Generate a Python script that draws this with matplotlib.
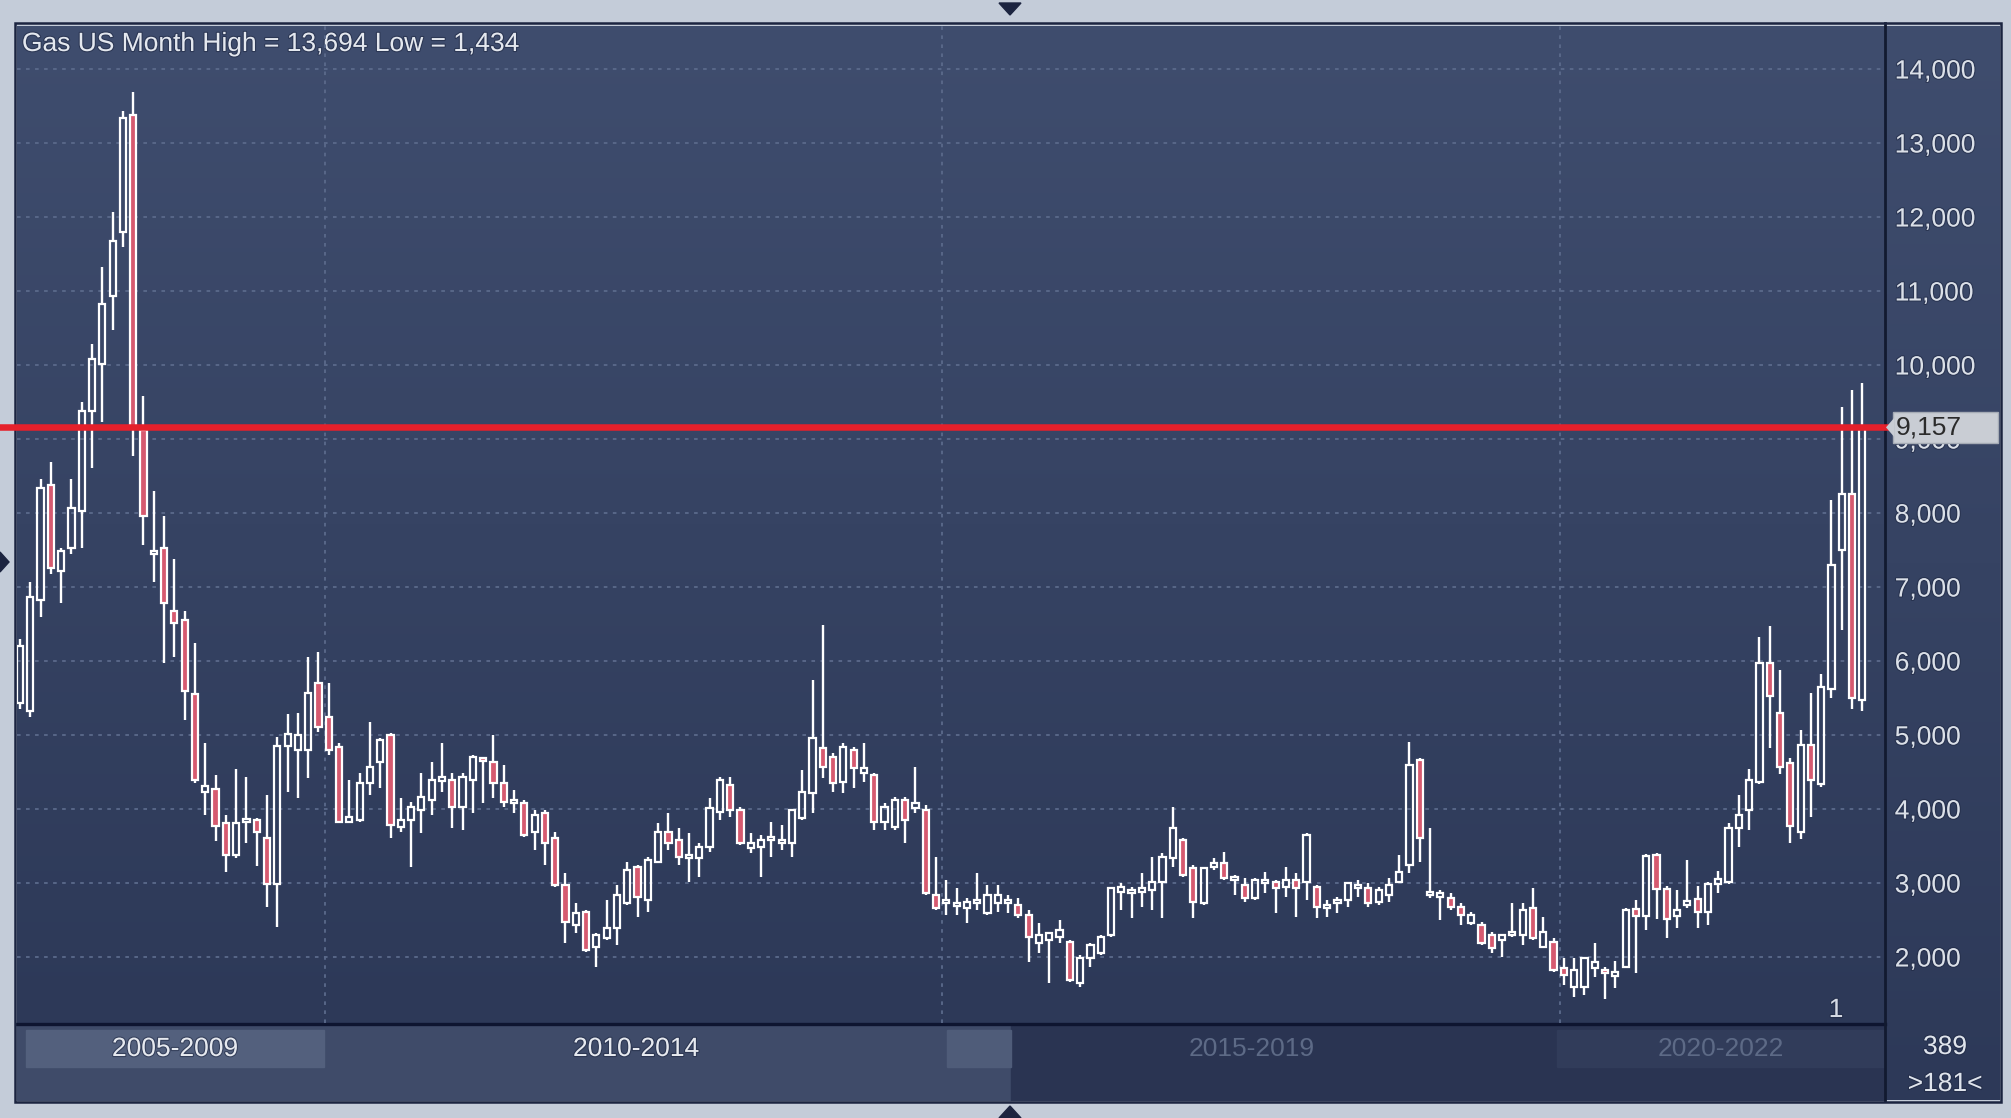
import matplotlib
matplotlib.use('Agg')
import matplotlib.pyplot as plt
import numpy as np
from matplotlib.patches import Rectangle, Polygon
from matplotlib.colors import LinearSegmentedColormap
from matplotlib.ticker import FuncFormatter
import matplotlib.transforms as mtransforms
import matplotlib.patheffects as pe

plt.rcParams['font.family'] = ['Liberation Sans', 'DejaVu Sans']

# ---------------- data (monthly candles, Aug 2007 .. Jul 2022) ----------------
opens = [5434, 5318, 6829, 8380, 7217, 7527, 8031, 9372, 10008, 10938,
         11791, 13380, 9116, 7450, 7527, 6674, 6558, 5550, 4233, 4271,
         3806, 3380, 3820, 3845, 3612, 2992, 4853, 4800, 4797, 5698,
         5248, 4842, 3828, 3851, 4347, 4640, 5000, 3761, 3851, 3986,
         4121, 4392, 4392, 4031, 4392, 4685, 4640, 4347, 4076, 4076,
         3693, 3941, 3603, 2972, 2432, 2612, 2139, 2252, 2387, 2725,
         3220, 2770, 3288, 3693, 3581, 3340, 3333, 3491, 3964, 4324,
         3986, 3468, 3491, 3581, 3536, 3536, 3873, 4212, 4820, 4707,
         4369, 4797, 4482, 4459, 3829, 3761, 4122, 4009, 3986, 2838,
         2725, 2700, 2657, 2725, 2590, 2725, 2740, 2703, 2567, 2184,
         2229, 2274, 2207, 1644, 1982, 2049, 2297, 2883, 2870, 2895,
         2905, 3018, 3333, 3581, 3198, 2725, 3220, 3266, 3055, 2973,
         2793, 3010, 3018, 2950, 3040, 3018, 2950, 2670, 2740, 2770,
         2928, 2928, 2747, 2838, 3018, 3243, 4662, 2850, 2830, 2800,
         2680, 2455, 2432, 2297, 2229, 2310, 2297, 2657, 2139, 2207,
         1847, 1599, 1599, 1847, 1824, 1760, 1860, 2650, 2555, 3376,
         2925, 2560, 2700, 2778, 2603, 2984, 3013, 3745, 3980, 4361,
         5973, 5299, 4625, 3687, 4859, 4332, 5621, 7497, 8259, 5475]
highs = [6300, 7062, 8457, 8690, 7527, 8457, 9504, 10279, 11326, 12062,
         13434, 13694, 9581, 8302, 7953, 7372, 6674, 6248, 4891, 4465,
         3922, 4543, 4426, 3884, 4194, 4969, 5279, 5293, 6049, 6126,
         5698, 4887, 4392, 4482, 5180, 4955, 5022, 4144, 4099, 4482,
         4640, 4887, 4482, 4482, 4730, 4707, 5000, 4595, 4257, 4121,
         3986, 3986, 3693, 3130, 2725, 2640, 2320, 2770, 2972, 3288,
         3243, 3356, 3806, 3941, 3738, 3671, 3536, 4144, 4437, 4437,
         4031, 3671, 3648, 3828, 3783, 3986, 4527, 5743, 6493, 4752,
         4887, 4842, 4887, 4482, 4077, 4167, 4167, 4572, 4054, 3356,
         3040, 2928, 2793, 3130, 2973, 2973, 2838, 2793, 2635, 2455,
         2342, 2500, 2229, 2027, 2184, 2297, 2950, 2995, 2950, 3130,
         3356, 3401, 4031, 3604, 3243, 3220, 3333, 3423, 3108, 3063,
         3063, 3153, 3040, 3220, 3130, 3671, 2973, 2770, 2815, 2995,
         3040, 2995, 2950, 3063, 3378, 4910, 4685, 3739, 2905, 2860,
         2725, 2612, 2477, 2342, 2297, 2725, 2725, 2928, 2545, 2252,
         1982, 1982, 1982, 2184, 1869, 1946, 2660, 2770, 3394, 3405,
         2954, 2907, 3306, 2954, 3013, 3160, 3804, 4185, 4537, 6325,
         6471, 5885, 4683, 5064, 5563, 5827, 8171, 9431, 9666, 9754]
lows = [5350, 5240, 6597, 7178, 6790, 7450, 7527, 8612, 9233, 10473,
        11597, 8767, 7566, 7062, 5977, 6054, 5202, 4349, 3922, 3574,
        3147, 3341, 3535, 3225, 2682, 2409, 4233, 4144, 4414, 5045,
        4730, 3806, 3806, 3828, 4189, 4279, 3603, 3693, 3220, 3670,
        3919, 4234, 3738, 3716, 3941, 4076, 4144, 4031, 3941, 3626,
        3446, 3243, 2950, 2184, 2320, 2072, 1869, 2229, 2162, 2702,
        2545, 2612, 3266, 3446, 3243, 3017, 3085, 3423, 3851, 3896,
        3513, 3400, 3085, 3355, 3446, 3355, 3851, 3941, 4414, 4234,
        4212, 4279, 4369, 3716, 3716, 3716, 3536, 3941, 2838, 2635,
        2567, 2567, 2455, 2635, 2567, 2612, 2590, 2522, 1937, 2049,
        1644, 2184, 1666, 1599, 1869, 2027, 2274, 2635, 2522, 2680,
        2635, 2522, 3220, 3085, 2522, 2702, 3175, 3040, 2838, 2748,
        2770, 2860, 2590, 2815, 2545, 2770, 2522, 2545, 2590, 2680,
        2815, 2680, 2702, 2748, 2995, 3130, 3288, 2793, 2500, 2635,
        2432, 2432, 2162, 2049, 2004, 2274, 2162, 2229, 2139, 1802,
        1621, 1464, 1486, 1734, 1434, 1577, 1847, 1780, 2368, 2515,
        2250, 2386, 2661, 2397, 2427, 2866, 2984, 3482, 3716, 4332,
        4830, 4478, 3540, 3599, 3892, 4302, 5504, 6413, 5357, 5328]
closes = [6209, 6868, 8341, 7256, 7488, 8070, 9372, 10085, 10822, 11674,
          13341, 9155, 7953, 7490, 6790, 6519, 5589, 4388, 4310, 3767,
          3380, 3806, 3860, 3690, 2992, 4853, 5008, 5000, 5563, 5112,
          4797, 3828, 3896, 4347, 4572, 4932, 3783, 3851, 4031, 4167,
          4392, 4420, 4031, 4437, 4707, 4660, 4347, 4099, 4121, 3648,
          3918, 3536, 2972, 2477, 2590, 2094, 2297, 2387, 2837, 3175,
          2815, 3311, 3693, 3536, 3355, 3370, 3491, 4009, 4392, 3986,
          3536, 3536, 3581, 3626, 3581, 3986, 4234, 4955, 4572, 4347,
          4842, 4549, 4549, 3829, 4032, 4122, 3851, 4077, 2860, 2660,
          2770, 2710, 2747, 2770, 2838, 2838, 2755, 2567, 2274, 2297,
          2319, 2364, 1689, 1982, 2162, 2274, 2928, 2950, 2895, 2915,
          3018, 3356, 3739, 3108, 2747, 3198, 3275, 3063, 3075, 2793,
          3040, 3030, 2928, 3040, 2928, 3649, 2680, 2690, 2760, 2995,
          2973, 2725, 2905, 2973, 3153, 4594, 3603, 2870, 2845, 2680,
          2567, 2567, 2184, 2117, 2297, 2330, 2635, 2252, 2342, 1824,
          1757, 1824, 1982, 1937, 1779, 1780, 2640, 2560, 3364, 2925,
          2515, 2640, 2760, 2603, 2984, 3050, 3745, 3921, 4390, 5973,
          5533, 4566, 3775, 4859, 4390, 5651, 7292, 8259, 5504, 9157]

first_month = (2007, 8)                 # first candle
period_labels = ['2005-2009', '2010-2014', '2015-2019', '2020-2022']
period_starts = [2010, 2015, 2020]      # year boundaries drawn as vertical grid lines
y_ticks = [2000, 3000, 4000, 5000, 6000, 7000, 8000, 9000,
           10000, 11000, 12000, 13000, 14000]
last_price = 9157
title_text = 'Gas US Month High = 13,694 Low = 1,434'
corner_texts = ['389', '>181<']
marker_text = '1'

# ---------------- figure ----------------
W, H = 2011, 1118
fig = plt.figure(figsize=(W / 100, H / 100), dpi=100)
fig.patch.set_facecolor('#c4ccd9')

def fx(px):
    return px / W

def fy(py):
    return 1 - py / H

shadow = [pe.withStroke(linewidth=1.6, foreground='#1d2640', alpha=0.55)]
FS = 19

# background / chrome axes in pixel coordinates
bg = fig.add_axes([0, 0, 1, 1])
bg.set_xlim(0, W)
bg.set_ylim(H, 0)
bg.axis('off')
bg.set_zorder(0)

grad_cmap = LinearSegmentedColormap.from_list('g', ['#2d3958', '#3f4d6e'])
grad = np.linspace(0, 1, 256).reshape(-1, 1)

# plot background gradient
PL, PR, PT, PB = 17, 1885, 26, 1023
bg.imshow(grad[::-1], cmap=grad_cmap, extent=[PL, PR, PB, PT], aspect='auto', zorder=0)
# right axis panel
bg.imshow(grad[::-1], cmap=grad_cmap, extent=[PR, 2000, 1100, PT], aspect='auto', zorder=0)

# bottom period bar
bg.add_patch(Rectangle((PL, 1025), 1011 - PL, 75, color='#3f4b69', zorder=1))
bg.add_patch(Rectangle((1011, 1025), PR - 1011, 75, color='#2a3452', zorder=1))
bg.add_patch(Rectangle((26, 1030), 298, 37, color='#53607d', zorder=2))
bg.add_patch(Rectangle((947, 1030), 64, 37, color='#4f5c79', zorder=2))
bg.add_patch(Rectangle((1557, 1030), PR - 1557, 37, color='#313c5a', zorder=2))

# separators and frame
bg.plot([PL, PR], [1024, 1024], color='#0e1530', lw=2.4, zorder=3)
bg.plot([PR, PR], [23, 1101], color='#121a30', lw=2.0, zorder=3)
bg.add_patch(Rectangle((15, 23), 1986, 1079, fill=False, ec='#1b2440', lw=1.8, zorder=3))

# small triangles
bg.add_patch(Polygon([[999, 3], [1021, 3], [1010, 15]], color='#1c2440', zorder=3))
bg.add_patch(Polygon([[999, 1118], [1021, 1118], [1010, 1106]], color='#1c2440', zorder=3))
bg.add_patch(Polygon([[0, 552], [0, 572], [9, 562]], color='#1c2440', zorder=3))

# texts
bg.text(22, 44, title_text, color='#e4e8ef', fontsize=FS, va='center', ha='left',
        zorder=5, path_effects=shadow)
seg_centers = [175, 636, 1252, 1721]
seg_colors = ['#e6e9ef', '#e6e9ef', '#5d6a86', '#5d6a86']
for lab, cx, col in zip(period_labels, seg_centers, seg_colors):
    bg.text(cx, 1049, lab, color=col, fontsize=FS, ha='center', va='center', zorder=5,
            path_effects=shadow if col == '#e6e9ef' else None)
bg.text(1945, 1047, corner_texts[0], color='#dfe4ec', fontsize=FS, ha='center', va='center',
        zorder=5, path_effects=shadow)
bg.text(1945, 1084, corner_texts[1], color='#dfe4ec', fontsize=FS, ha='center', va='center',
        zorder=5, path_effects=shadow)
bg.text(1836, 1010, marker_text, color='#d5dae4', fontsize=FS, ha='center', va='center',
        zorder=5, path_effects=shadow)

# ---------------- main candle axes ----------------
ax = fig.add_axes([fx(PL), fy(PB), fx(PR) - fx(PL), fy(PT) - fy(PB)])
ax.set_zorder(1)
ax.patch.set_alpha(0)
n = len(opens)
x = np.arange(n)
ax.set_xlim(-0.29, 181.2)
ax.set_ylim(1108, 14581)
for s in ax.spines.values():
    s.set_visible(False)
ax.set_xticks([])
ax.set_yticks(y_ticks)
ax.yaxis.tick_right()
ax.yaxis.set_major_formatter(FuncFormatter(lambda v, p: f'{v:,.0f}'))
ax.tick_params(axis='y', length=0, pad=7, labelsize=FS, labelcolor='#dbe0e8')
for t in ax.get_yticklabels():
    t.set_path_effects(shadow)
ax.grid(axis='y', color='#5b6a8b', linestyle=(0, (2, 3)), lw=1.3, zorder=0)

# vertical year-boundary grid lines
for yr in period_starts:
    idx = (yr - first_month[0]) * 12 + (1 - first_month[1])
    ax.axvline(idx + 0.6, color='#5b6a8b', linestyle=(0, (2, 3)), lw=1.3, zorder=0)

o = np.array(opens, float)
c = np.array(closes, float)
h = np.array(highs, float)
l = np.array(lows, float)
top = np.maximum(o, c)
bot = np.minimum(o, c)
hgt = np.maximum(top - bot, 45)
mid = (top + bot) / 2
btop = mid + hgt / 2
bbot = mid - hgt / 2
up = c >= o

ax.vlines(x, btop, np.maximum(h, btop), color='white', lw=1.7, zorder=3)
ax.vlines(x, np.minimum(l, bbot), bbot, color='white', lw=1.7, zorder=3)
ax.bar(x[up], hgt[up], bottom=bbot[up], width=0.6, facecolor='none',
       edgecolor='white', lw=1.6, zorder=4)
ax.bar(x[~up], hgt[~up], bottom=bbot[~up], width=0.6, facecolor='#d65a70',
       edgecolor='white', lw=1.6, zorder=4)

# current price line
ax_w = PR - PL
ax.axhline(last_price, xmin=-PL / ax_w, xmax=(1893 - PL) / ax_w, color='#e5202b',
           lw=4.7, clip_on=False, zorder=6)

# price label box on the axis
bt = mtransforms.blended_transform_factory(fig.transFigure, ax.transData)
data_per_px = (ax.get_ylim()[1] - ax.get_ylim()[0]) / (PB - PT)
box_h = 31 * data_per_px
ax.add_patch(Rectangle((fx(1893), last_price - box_h / 2), fx(1998) - fx(1893), box_h,
                       transform=bt, facecolor='#c9cdd4', edgecolor='#a5abb5', lw=1,
                       clip_on=False, zorder=10))
ax.add_patch(Polygon([[fx(1886), last_price], [fx(1894), last_price + box_h * 0.3],
                      [fx(1894), last_price - box_h * 0.3]], closed=True,
                     transform=bt, facecolor='#c9cdd4', edgecolor='none',
                     clip_on=False, zorder=10))
ax.text(fx(1896), last_price, f'{last_price:,}', transform=bt, color='#2b2b2b',
        fontsize=FS, ha='left', va='center', zorder=11, clip_on=False)

fig.savefig('out.png', dpi=100, facecolor=fig.get_facecolor())
